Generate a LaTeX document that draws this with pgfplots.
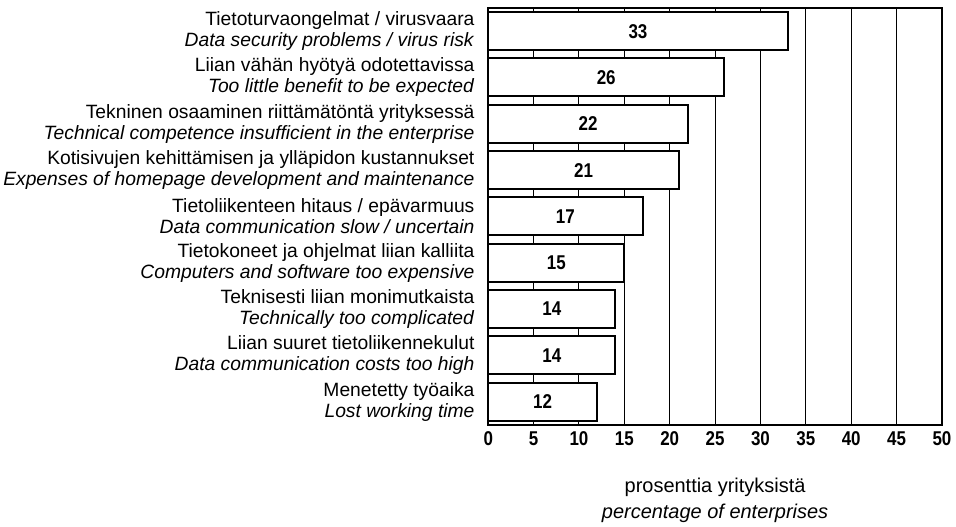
\documentclass[border=0pt]{standalone}
\usepackage{pgfplots}
\usepackage{pgfplotstable}
\pgfplotsset{compat=1.18}
\usepackage{fontspec}
\setmainfont{Liberation Sans}
\newfontfamily\numfont{Liberation Sans}[FakeStretch=0.85]
\pgfplotstableread{
y v
0 33
1 26
2 22
3 21
4 17
5 15
6 14
7 14
8 12
}\datatable
\begin{document}
\begin{tikzpicture}
\begin{axis}[
  scale only axis, width=453bp, height=416bp,
  xbar, bar width=0.82,
  xmin=0, xmax=50, ymin=-0.5, ymax=8.5, y dir=reverse,
  xtick={0,5,...,50}, ytick={0,...,8},
  yticklabels={
    {Tietoturvaongelmat / virusvaara\\\textit{Data security problems / virus risk}},
    {Liian vähän hyötyä odotettavissa\\\textit{Too little benefit to be expected}},
    {Tekninen osaaminen riittämätöntä yrityksessä\\\textit{Technical competence insufficient in the enterprise}},
    {Kotisivujen kehittämisen ja ylläpidon kustannukset\\\textit{Expenses of homepage development and maintenance}},
    {Tietoliikenteen hitaus / epävarmuus\\\textit{Data communication slow / uncertain}},
    {Tietokoneet ja ohjelmat liian kalliita\\\textit{Computers and software too expensive}},
    {Teknisesti liian monimutkaista\\\textit{Technically too complicated}},
    {Liian suuret tietoliikennekulut\\\textit{Data communication costs too high}},
    {Menetetty työaika\\\textit{Lost working time}}},
  yticklabel style={align=right, font=\fontsize{19.3}{21}\selectfont, xshift=-6bp},
  xticklabel style={font=\fontsize{20}{22}\selectfont\numfont\bfseries, text height=14bp, text depth=0bp, yshift=-3bp},
  /pgf/number format/assume math mode=true,
  xmajorgrids, major grid style={black, line width=1bp},
  tick style={draw=none},
  axis line style={line width=1.8bp},
  xlabel={prosenttia yrityksistä\\\textit{percentage of enterprises}},
  xlabel style={align=center, font=\fontsize{20}{26}\selectfont, yshift=-26bp},
]
\addplot[fill=white, draw=black, line width=2bp] table[x=v, y=y] {\datatable};
\addplot[only marks, mark=none, nodes near coords, point meta=explicit,
  every node near coord/.append style={anchor=center, font=\fontsize{20}{22}\selectfont\numfont\bfseries}]
  table[x expr=\thisrow{v}/2, y=y, meta=v] {\datatable};
\end{axis}
\path (current axis.north) ++(0,8bp);
\path (current axis.east) ++(14bp,0);
\end{tikzpicture}
\end{document}
